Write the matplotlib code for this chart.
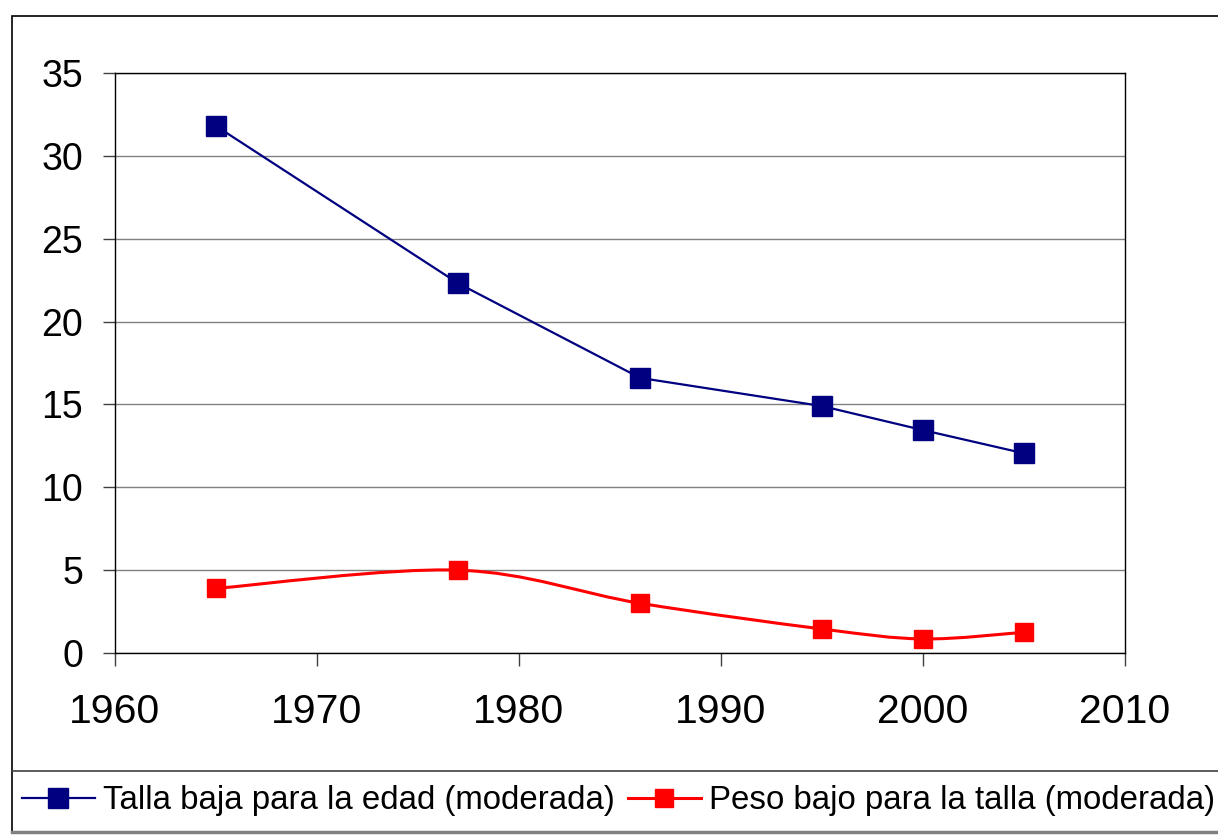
import matplotlib.pyplot as plt
import numpy as np
from matplotlib.path import Path
from matplotlib.patches import PathPatch, Rectangle
from matplotlib.lines import Line2D

plt.rcParams['font.family'] = ['Liberation Sans', 'DejaVu Sans']

# data
years = [1965, 1977, 1986, 1995, 2000, 2005]
talla_baja = [31.8, 22.3, 16.6, 14.9, 13.45, 12.05]
peso_bajo = [3.9, 5.0, 3.0, 1.45, 0.85, 1.25]
label_talla = "Talla baja para la edad (moderada)"
label_peso = "Peso bajo para la talla (moderada)"
xticks = [1960, 1970, 1980, 1990, 2000, 2010]
yticks = [0, 5, 10, 15, 20, 25, 30, 35]

navy = "#000080"
red = "#FF0000"
W, H = 1218, 835

fig = plt.figure(figsize=(W / 100, H / 100), dpi=100)
ax = fig.add_axes([115 / W, 1 - 653 / H, (1125 - 115) / W, (653 - 73) / H])


def smooth_path(xs, ys):
    # cubic bezier segments (excel style smoothed line), drawn by matplotlib
    pts = np.column_stack([xs, ys]).astype(float)
    n = len(pts)
    verts = [pts[0]]
    codes = [Path.MOVETO]
    for i in range(n - 1):
        p0 = pts[max(i - 1, 0)]
        p1 = pts[i]
        p2 = pts[i + 1]
        p3 = pts[min(i + 2, n - 1)]
        c1 = p1 + (p2 - p0) / 6
        c2 = p2 - (p3 - p1) / 6
        verts += [c1, c2, p2]
        codes += [Path.CURVE4] * 3
    return Path(verts, codes)


ax.plot(years, talla_baja, color=navy, lw=1.6, marker="s", ms=15,
        mfc=navy, mec=navy, zorder=3, label=label_talla)
ax.add_patch(PathPatch(smooth_path(years, peso_bajo), fill=False,
                       edgecolor=red, lw=2.2, zorder=3))
ax.plot(years, peso_bajo, ls="none", marker="s", ms=12.5, mfc=red, mec=red,
        zorder=4)

ax.set_xlim(1960, 2010)
ax.set_ylim(0, 35)
ax.set_xticks(xticks)
ax.set_yticks(yticks)
ax.yaxis.grid(True, color="#808080", lw=1)
ax.set_axisbelow(True)
for s in ax.spines.values():
    s.set_color("black")
    s.set_linewidth(1)
ax.tick_params(axis="both", direction="out", length=9, width=1,
               color="#404040")
ax.tick_params(axis="y", pad=14, labelsize=27)
ax.tick_params(axis="x", pad=20, labelsize=29.5)

# outer frame and legend separator
fig.patches.append(Rectangle((12 / W, 1 - 832 / H), 1.2, (832 - 16) / H,
                             transform=fig.transFigure, fill=False,
                             edgecolor="black", lw=1.2))
fig.add_artist(Line2D([12 / W, 1], [1 - 771 / H] * 2,
                      transform=fig.transFigure, color="#404040", lw=1.2))
fig.add_artist(Line2D([12 / W, 1], [1 - 832 / H] * 2,
                      transform=fig.transFigure, color="#808080", lw=2.5))

handles = [
    Line2D([], [], color=navy, lw=1.6, marker="s", ms=15, mfc=navy, mec=navy),
    Line2D([], [], color=red, lw=2.2, marker="s", ms=12.5, mfc=red, mec=red),
]
fig.legend(handles, [label_talla, label_peso], loc="center left",
           bbox_to_anchor=(22 / W, 1 - 801 / H), ncol=2, frameon=False,
           fontsize=23.8, handlelength=2.2, handletextpad=0.25,
           columnspacing=0.4, borderaxespad=0, borderpad=0)

fig.savefig("out.png", dpi=100)
